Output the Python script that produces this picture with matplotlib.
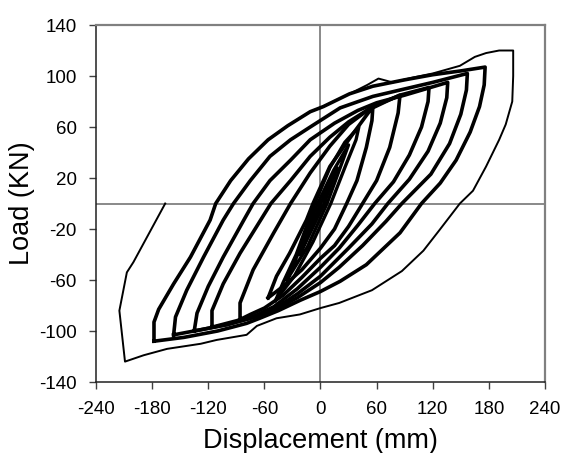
import numpy as np
import matplotlib
matplotlib.use("Agg")
import matplotlib.pyplot as plt

plt.rcParams['font.family'] = ['Liberation Sans', 'DejaVu Sans']
plt.rcParams['axes.unicode_minus'] = False

# hysteresis loops: (displacement mm, load kN)
# small inner cycles (dense spindle in the middle)
loop_1 = [(-22, -40), (0, 0), (18, 28), (4, 0), (-22, -40)]
loop_2 = [(-36, -60), (-22, -36), (-3, 0), (14, 26), (30, 46),
          (22, 30), (7, 0), (-14, -34), (-36, -60)]
loop_3 = [(-48, -76), (-40, -62), (-26, -40), (-6, 0), (10, 28), (26, 48), (41, 60),
          (38, 50), (27, 30), (11, 0), (-8, -30), (-28, -57), (-48, -76)]
# repeated cycles
loop_4 = [(-56, -74), (-47, -57), (-33, -39), (-15, -13), (-8, 0), (10, 29), (35, 55), (56, 76),
          (55, 65), (49, 44), (39, 18), (28, 0), (15, -20), (0, -35), (-20, -52),
          (-40, -65), (-56, -74)]
loop_5 = [(-86, -91), (-86, -78), (-72, -52), (-50, -23), (-32, 0), (-11, 24), (10, 45),
          (30, 62), (50, 73), (70, 80), (85, 85),
          (83, 71), (74, 44), (60, 18), (45, 0), (30, -18), (15, -33), (0, -43),
          (-20, -58), (-40, -72), (-60, -82), (-75, -87), (-86, -91)]
loop_6 = [(-116, -97), (-116, -84), (-104, -63), (-86, -39), (-64, -13), (-53, 0), (-32, 18),
          (-11, 37), (10, 52), (30, 64), (56, 76), (85, 85), (116, 91),
          (115, 80), (108, 60), (95, 38), (78, 17), (58, 0), (40, -17), (20, -35),
          (0, -50), (-25, -67), (-50, -81), (-70, -88), (-90, -92), (-116, -97)]
loop_7 = [(-135, -100), (-132, -86), (-120, -65), (-104, -42), (-82, -13), (-72, 0),
          (-54, 18), (-32, 34), (-11, 50), (15, 63), (40, 73), (60, 79), (90, 85), (136, 95),
          (135, 83), (128, 63), (115, 41), (95, 19), (72, 0), (55, -16), (30, -35),
          (0, -57), (-25, -71), (-50, -83), (-70, -89), (-100, -95), (-135, -100)]
loop_8 = [(-157, -103), (-155, -89), (-143, -68), (-125, -42), (-104, -13), (-93, 0),
          (-75, 18), (-54, 37), (-32, 50), (-11, 60), (21, 75), (56, 84), (85, 89),
          (120, 95), (157, 102),
          (156, 89), (150, 70), (138, 47), (118, 23), (87, 0), (70, -14), (45, -33),
          (20, -50), (0, -62), (-25, -74), (-50, -84), (-75, -90), (-100, -95),
          (-128, -99), (-157, -103)]
loop_9 = [(-178, -108), (-178, -93), (-173, -83), (-157, -63), (-139, -42), (-118, -13),
          (-112, 0), (-96, 18), (-77, 35), (-56, 50), (-35, 61), (-11, 72), (3, 76),
          (31, 86), (56, 92), (90, 97), (120, 101), (150, 104), (176, 107),
          (175, 93), (170, 76), (160, 56), (145, 34), (128, 16), (108, 0), (85, -23),
          (49, -48), (21, -61), (0, -69), (-22, -76), (-45, -84), (-65, -90), (-79, -94),
          (-110, -100), (-146, -105), (-178, -108)]
# last cycle, drawn once
final = [(-178, -108), (-178, -93), (-173, -83), (-157, -63), (-139, -42), (-118, -13),
         (-112, 0), (-96, 18), (-77, 35), (-56, 50), (-35, 61), (-11, 72), (3, 76),
         (31, 86), (50, 93), (62, 98), (77, 95), (100, 99), (120, 102), (149, 108),
         (165, 115), (177, 118), (191, 120), (206, 120),
         (206, 100), (205, 80), (198, 62), (191, 50), (177, 29), (163, 10), (149, 0),
         (127, -21), (110, -37), (87, -53), (55, -68), (20, -78), (0, -82), (-22, -87),
         (-47, -90), (-68, -96), (-79, -103), (-111, -107), (-128, -110), (-164, -114),
         (-189, -119), (-209, -124), (-215, -84), (-207, -54), (-200, -46), (-166, 0)]

x_ticks = [-240, -180, -120, -60, 0, 60, 120, 180, 240]
y_ticks = [-140, -100, -60, -20, 20, 60, 100, 140]

fig = plt.figure(figsize=(5.64, 4.53), dpi=100)
ax = fig.add_axes([0.1702, 0.1567, 0.7961, 0.7881])

# crosshair through the origin
ax.axhline(0, color='#808080', lw=1.3, zorder=1)
ax.axvline(0, color='#808080', lw=1.3, zorder=1)

for lp in [loop_1, loop_2, loop_3]:
    xy = np.array(lp)
    ax.plot(xy[:, 0], xy[:, 1], color='black', lw=2.4, zorder=3,
            solid_joinstyle='round')
for lp in [loop_4, loop_5, loop_6, loop_7, loop_8, loop_9]:
    xy = np.array(lp)
    ax.plot(xy[:, 0], xy[:, 1], color='black', lw=2.6, zorder=3,
            solid_joinstyle='round')
xy = np.array(final)
ax.plot(xy[:, 0], xy[:, 1], color='black', lw=1.4, zorder=3,
        solid_joinstyle='round')

ax.set_xlim(-240, 240)
ax.set_ylim(-140, 140)
ax.set_xticks(x_ticks)
ax.set_yticks(y_ticks)
ax.tick_params(direction='out', length=5, width=1, color='#404040',
               labelsize=13.5, pad=9)

for s in ['top', 'right']:
    ax.spines[s].set_color('#808080')
    ax.spines[s].set_linewidth(1.6)
for s in ['left', 'bottom']:
    ax.spines[s].set_color('#202020')
    ax.spines[s].set_linewidth(1.1)

ax.set_xlabel('Displacement (mm)', fontsize=19.5, labelpad=7)
ax.set_ylabel('Load (KN)', fontsize=19.5, labelpad=3)

fig.savefig('out.png', dpi=100)
